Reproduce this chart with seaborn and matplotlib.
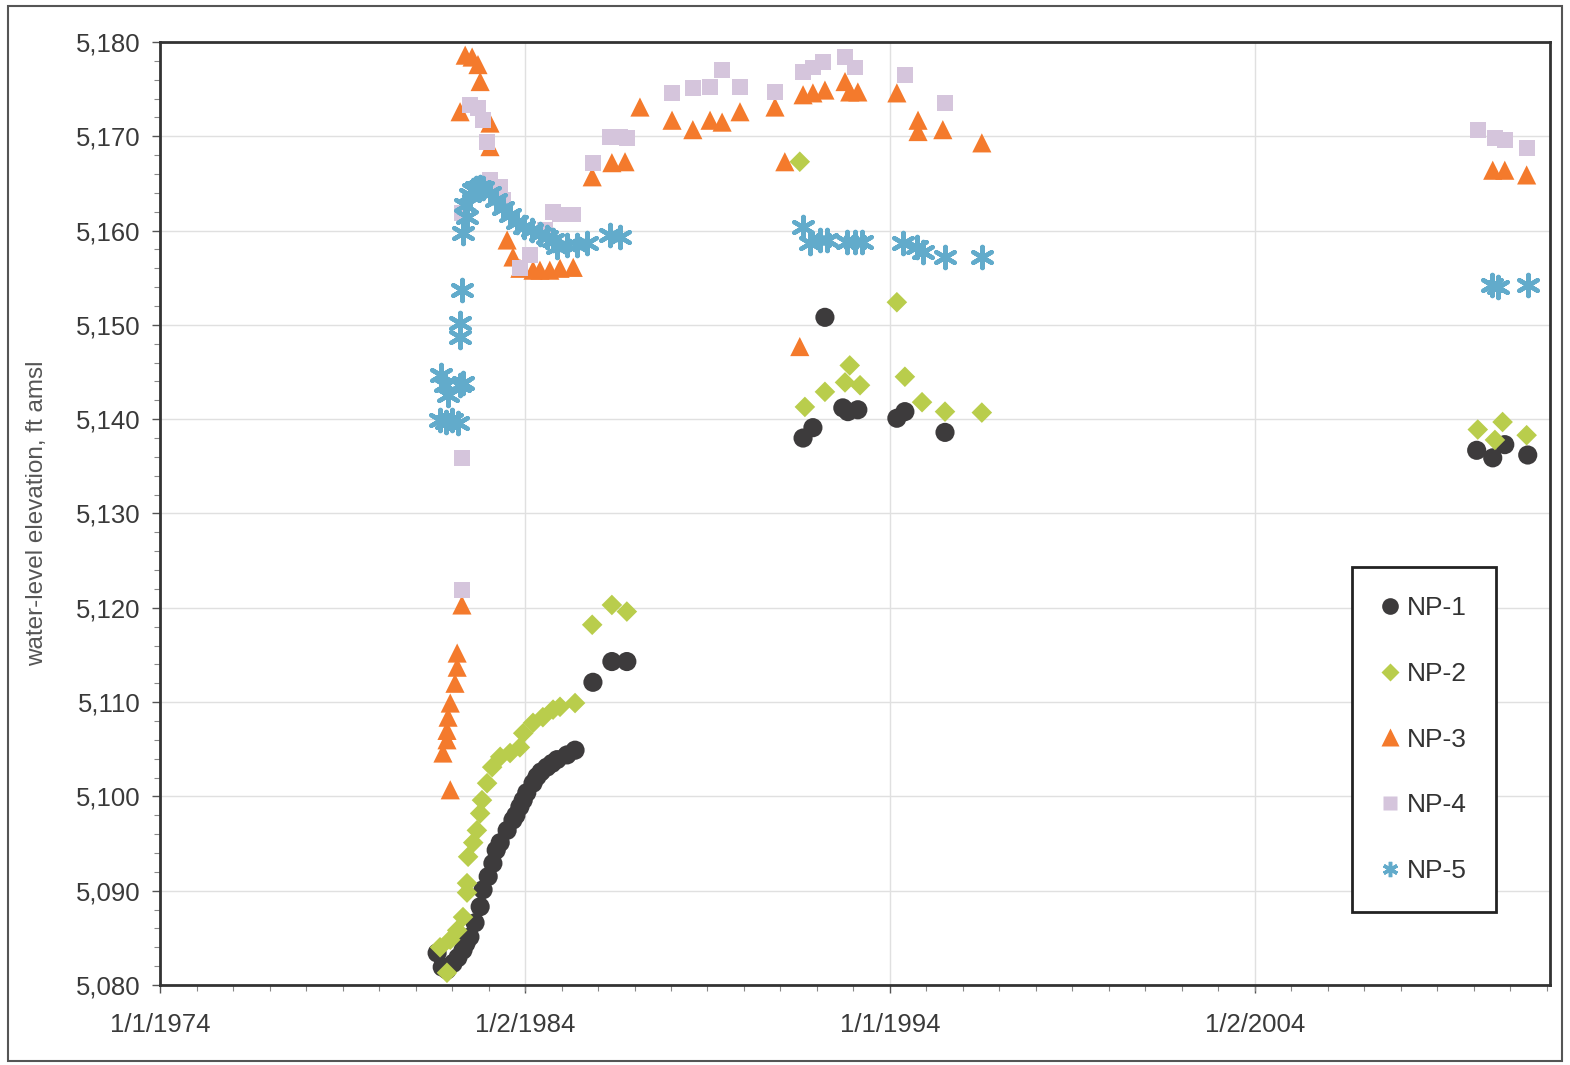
import numpy as np
import pandas as pd
import seaborn as sns
import matplotlib
matplotlib.use("Agg")
import matplotlib.pyplot as plt
import matplotlib.dates as mdates
from matplotlib.ticker import FixedLocator, MultipleLocator, FuncFormatter
from matplotlib.patches import Rectangle

# water-level data (decimal year, ft amsl)
np1_year = [1981.59, 1981.73, 1981.86, 1982.03, 1982.16, 1982.30, 1982.38, 1982.49, 1982.63,
            1982.77, 1982.85, 1982.99, 1983.12, 1983.21, 1983.32, 1983.51, 1983.67, 1983.75,
            1983.86, 1983.95, 1984.05, 1984.22, 1984.33, 1984.44, 1984.60, 1984.74, 1984.88,
            1985.15, 1985.37, 1985.86, 1986.38, 1986.79,
            1991.62, 1991.89, 1992.22, 1992.71, 1992.85, 1993.12, 1994.19, 1994.41, 1995.51,
            2010.08, 2010.52, 2010.85, 2011.48]
np1_elev = [5083.4, 5081.9, 5081.6, 5082.3, 5082.9, 5083.7, 5084.4, 5085.1, 5086.6,
            5088.3, 5090.1, 5091.5, 5092.9, 5094.3, 5095.1, 5096.4, 5097.5, 5098.0,
            5098.9, 5099.6, 5100.4, 5101.4, 5102.1, 5102.6, 5103.1, 5103.5, 5103.9,
            5104.4, 5104.9, 5112.1, 5114.3, 5114.3,
            5138.0, 5139.1, 5150.8, 5141.2, 5140.8, 5141.0, 5140.1, 5140.8, 5138.6,
            5136.7, 5135.9, 5137.3, 5136.2]

np2_year = [1981.67, 1981.86, 1981.95, 1982.14, 1982.30, 1982.41, 1982.41, 1982.44, 1982.58,
            1982.68, 1982.77, 1982.82, 1982.96, 1983.10, 1983.32, 1983.59, 1983.86, 1983.95,
            1984.22, 1984.49, 1984.77, 1984.96, 1985.37, 1985.84, 1986.38, 1986.79,
            1991.53, 1991.67, 1992.22, 1992.77, 1992.90, 1993.18, 1994.19, 1994.41, 1994.88,
            1995.51, 1996.52,
            2010.11, 2010.58, 2010.79, 2011.45]
np2_elev = [5084.0, 5081.3, 5084.8, 5085.8, 5087.2, 5089.8, 5090.8, 5093.6, 5095.1,
            5096.4, 5098.2, 5099.6, 5101.4, 5103.1, 5104.2, 5104.6, 5105.2, 5106.7,
            5107.8, 5108.4, 5109.2, 5109.5, 5109.9, 5118.2, 5120.3, 5119.6,
            5167.3, 5141.3, 5142.9, 5143.9, 5145.7, 5143.6, 5152.4, 5144.5, 5141.8,
            5140.8, 5140.7,
            5138.9, 5137.8, 5139.7, 5138.3]

np3_year = [1981.75, 1981.86, 1981.86, 1981.89, 1981.95, 1981.95, 1982.08, 1982.14, 1982.14,
            1982.27, 1982.22, 1982.36, 1982.55, 1982.71, 1982.77, 1983.04, 1983.04,
            1983.51, 1983.67, 1983.86, 1984.22, 1984.41, 1984.68, 1984.96, 1985.32,
            1985.84, 1986.38, 1986.74, 1987.15, 1988.03, 1988.60, 1989.07, 1989.40,
            1989.89, 1990.85, 1991.12, 1991.53, 1991.62, 1991.89, 1992.22, 1992.77,
            1992.90, 1993.12, 1994.19, 1994.77, 1994.77, 1995.45, 1996.52,
            2010.52, 2010.85, 2011.45]
np3_elev = [5104.6, 5106.0, 5107.0, 5108.4, 5109.9, 5100.7, 5112.0, 5113.7, 5115.2,
            5120.3, 5172.6, 5178.6, 5178.4, 5177.6, 5175.8, 5168.9, 5171.4,
            5159.0, 5157.2, 5156.0, 5155.8, 5155.8, 5155.8, 5156.0, 5156.1,
            5165.7, 5167.2, 5167.3, 5173.1, 5171.7, 5170.7, 5171.7, 5171.5,
            5172.6, 5173.1, 5167.3, 5147.7, 5174.4, 5174.6, 5174.9, 5175.8,
            5174.7, 5174.7, 5174.6, 5171.7, 5170.5, 5170.7, 5169.3,
            5166.4, 5166.4, 5165.9]

np4_year = [1982.27, 1982.27, 1982.27, 1982.49, 1982.71, 1982.85, 1982.96, 1983.04, 1983.32,
            1983.40, 1983.86, 1984.14, 1984.55, 1984.77, 1984.96, 1985.32, 1985.86,
            1986.33, 1986.60, 1986.79, 1988.03, 1988.60, 1989.07, 1989.40, 1989.89,
            1990.85, 1991.62, 1991.89, 1992.16, 1992.77, 1993.04, 1994.41, 1995.51,
            2010.11, 2010.58, 2010.85, 2011.45]
np4_elev = [5121.9, 5135.9, 5161.9, 5173.3, 5173.0, 5171.7, 5169.4, 5165.4, 5164.6,
            5163.2, 5156.0, 5157.4, 5160.1, 5162.0, 5161.7, 5161.7, 5167.2,
            5169.9, 5169.9, 5169.8, 5174.6, 5175.1, 5175.2, 5177.0, 5175.2,
            5174.7, 5176.8, 5177.3, 5177.9, 5178.4, 5177.3, 5176.5, 5173.5,
            5170.7, 5169.8, 5169.6, 5168.8]

np5_year = [1981.70, 1981.81, 1981.89, 1982.22, 1982.30, 1981.67, 1981.84, 1982.00, 1982.16,
            1982.22, 1982.22, 1982.27, 1982.30, 1982.41, 1982.36, 1982.49, 1982.58, 1982.66,
            1982.77, 1982.85, 1983.04, 1983.21, 1983.40, 1983.59, 1983.78, 1983.97,
            1984.19, 1984.41, 1984.60, 1984.77, 1984.88, 1985.15, 1985.42, 1985.70,
            1986.33, 1986.60,
            1991.62, 1991.81, 1992.08, 1992.27, 1992.82, 1993.04, 1993.23, 1994.36,
            1994.74, 1994.90, 1995.51, 1996.52,
            2010.49, 2010.66, 2011.48]
np5_elev = [5144.7, 5143.6, 5142.6, 5143.6, 5143.8, 5139.9, 5139.7, 5139.9, 5139.6,
            5148.7, 5150.2, 5153.7, 5159.7, 5161.4, 5162.7, 5163.8, 5164.3, 5164.5,
            5164.6, 5164.5, 5164.0, 5163.2, 5162.4, 5161.7, 5160.9, 5160.4,
            5160.1, 5159.6, 5159.3, 5159.0, 5158.3, 5158.5, 5158.5, 5158.7,
            5159.5, 5159.3,
            5160.4, 5158.7, 5159.0, 5159.0, 5158.8, 5158.8, 5158.8, 5158.7,
            5158.3, 5157.7, 5157.2, 5157.2,
            5154.2, 5154.0, 5154.2]

wells = ["NP-1", "NP-2", "NP-3", "NP-4", "NP-5"]
colors = ["#3d3b3c", "#b9cd4c", "#f47a2c", "#d5c5dc", "#62abcb"]
x_ticks = ["1974-01-01", "1984-01-02", "1994-01-01", "2004-01-02"]
x_tick_labels = ["1/1/1974", "1/2/1984", "1/1/1994", "1/2/2004"]
y_ticks = list(range(5080, 5181, 10))


def year_to_date(years):
    years = np.asarray(years)
    whole = years.astype(int)
    starts = pd.to_datetime([f"{y}-01-01" for y in whole])
    return starts + pd.to_timedelta((years - whole) * 365.25, unit="D")


series = {
    "NP-1": (np1_year, np1_elev),
    "NP-2": (np2_year, np2_elev),
    "NP-3": (np3_year, np3_elev),
    "NP-4": (np4_year, np4_elev),
    "NP-5": (np5_year, np5_elev),
}
frames = []
for name, (yr, el) in series.items():
    frames.append(pd.DataFrame({"date": year_to_date(yr), "elev": el, "well": name}))
df = pd.concat(frames, ignore_index=True)

sns.set_theme(style="white")
plt.rcParams["font.family"] = ["Liberation Sans", "DejaVu Sans"]

fig = plt.figure(figsize=(15.7, 10.65), dpi=100)
ax = fig.add_axes([0.102, 0.0751, 0.885, 0.8855])

marker_style = {
    "NP-1": dict(marker="o", s=190),
    "NP-2": dict(marker="D", s=110),
    "NP-3": dict(marker="^", s=190),
    "NP-4": dict(marker="s", s=130),
    "NP-5": dict(marker=(6, 2, 0), s=230, linewidth=3.2),
}
handles = []
for name, col in zip(wells, colors):
    sub = df[df["well"] == name]
    kw = marker_style[name]
    if name == "NP-5":
        sns.scatterplot(data=sub, x="date", y="elev", ax=ax, color=col,
                        marker=kw["marker"], s=kw["s"], linewidth=kw["linewidth"],
                        zorder=3, legend=False)
    else:
        sns.scatterplot(data=sub, x="date", y="elev", ax=ax, color=col,
                        marker=kw["marker"], s=kw["s"], edgecolor="none",
                        zorder=3, legend=False)
    mk = kw["marker"]
    if name == "NP-5":
        h = plt.Line2D([], [], linestyle="none", marker=mk, markersize=11,
                       markeredgecolor=col, markeredgewidth=2.5, color=col)
    else:
        h = plt.Line2D([], [], linestyle="none", marker=mk,
                       markersize={"o": 12, "D": 9, "^": 13, "s": 10}[mk],
                       markerfacecolor=col, markeredgecolor="none")
    handles.append(h)

# axes limits and ticks
ax.set_xlim(mdates.date2num(pd.Timestamp("1974-01-01")), mdates.date2num(pd.Timestamp("2012-01-30")))
ax.set_ylim(5080, 5180)
ax.xaxis.set_major_locator(FixedLocator(mdates.date2num(pd.to_datetime(x_ticks))))
ax.set_xticklabels(x_tick_labels)
ax.xaxis.set_minor_locator(MultipleLocator(365.25))
ax.yaxis.set_major_locator(FixedLocator(y_ticks))
ax.yaxis.set_major_formatter(FuncFormatter(lambda v, p: f"{v:,.0f}"))
ax.yaxis.set_minor_locator(MultipleLocator(2))

ax.tick_params(axis="both", which="major", direction="out", length=6, width=1,
               color="#555555", labelsize=18.5, labelcolor="#3a3a3a", bottom=True, left=True)
ax.tick_params(axis="both", which="minor", direction="out", length=4, width=0.8,
               color="#888888", bottom=True, left=True)
ax.tick_params(axis="x", pad=14)
ax.tick_params(axis="y", pad=8)

ax.grid(True, which="major", color="#e0e0e0", linewidth=1)
ax.set_axisbelow(True)
for sp in ax.spines.values():
    sp.set_color("#333333")
    sp.set_linewidth(2)

ax.set_xlabel("")
ax.set_ylabel("water-level elevation, ft amsl", fontsize=17.5, color="#555555", labelpad=20)

leg = ax.legend(handles, wells, loc="lower left", bbox_to_anchor=(0.8576, 0.0774),
                fontsize=19, frameon=True, fancybox=False, framealpha=1,
                edgecolor="#222222", labelspacing=1.58, handlelength=0.7,
                handletextpad=0.3, borderpad=1.1, borderaxespad=0)
leg.get_frame().set_linewidth(2)
for t in leg.get_texts():
    t.set_color("#333333")

# outer chart-area border
fig.patches.append(Rectangle((0.005, 0.004), 0.99, 0.99, transform=fig.transFigure,
                             fill=False, edgecolor="#555555", linewidth=1.5))

fig.savefig("out.png", dpi=100)
